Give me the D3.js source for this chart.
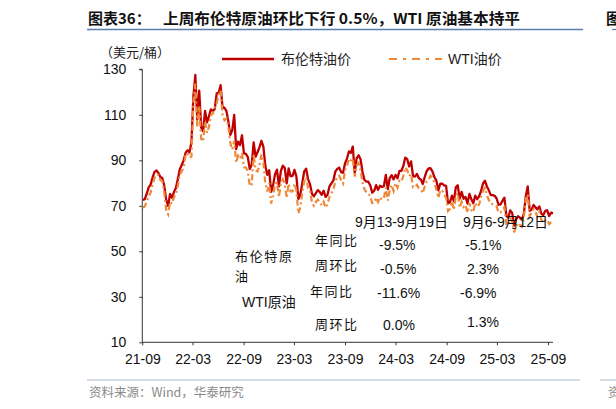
<!DOCTYPE html>
<html><head><meta charset="utf-8">
<script src="https://cdn.jsdelivr.net/npm/d3@7"></script>
<style>
html,body{margin:0;padding:0;background:#fff;}
svg{display:block;}
text{font-family:"Liberation Sans",Arial,"Noto Sans CJK SC",sans-serif;}
.cjk{font-family:"Noto Sans CJK SC","Liberation Sans",sans-serif;}
</style></head>
<body>
<svg id="c" width="616" height="409"></svg>
<script>
// ---- data (weekly Friday closes, USD/bbl) ----
const startDate = "2021-09-03";
const brent2021 = [72.6,72.9,75.3,78.1,79.3,82.4,84.9,85.5,84.4,82.7,82.2,78.9,72.7,69.9,75.2,73.5,76.1,77.8];
const wti2021   = [69.3,69.7,72.0,74.0,75.9,79.4,82.3,83.8,83.6,81.3,80.8,76.1,68.2,66.3,71.7,70.9,73.8,75.2];
const brent2022 = [81.8,86.1,87.9,90.0, 93.3,94.4,93.5,97.9, 118.1,127.5,107.9,120.6, 104.4,102.8,111.7,106.7,109.3, 112.4,111.6,112.6,119.4, 119.7,123.0,113.1,113.1, 111.6,107.0,101.2,103.2,110.0, 94.9,98.2,96.7,101.0, 93.0,92.8,91.4,86.2,88.0, 97.9,91.6,93.5,95.8, 98.6,96.0,87.6,83.6, 85.6,76.1,79.0,83.9,85.9];
const wti2022   = [78.9,83.8,85.1,86.8, 92.3,93.1,91.1,91.6, 115.7,123.7,104.7,113.9, 99.3,98.3,107.0,102.1,104.7, 109.8,110.5,113.2,115.1, 118.9,120.7,109.6,107.6, 108.4,104.8,97.6,94.7,98.6, 89.0,92.1,90.8,93.1, 86.9,86.8,85.1,78.7,79.5, 92.6,85.6,85.1,87.9, 92.6,89.0,80.1,76.3, 80.0,71.0,74.3,79.6,80.3];
const brent2023 = [78.6,85.3,87.6,86.7, 79.9,86.4,83.0,83.2, 85.8,82.8,73.0,75.0,79.8, 85.1,86.3,81.7,79.5, 75.3,74.2,75.6,76.9, 76.1,74.8,76.6,73.9,74.9, 78.5,79.9,81.1,85.0, 86.2,86.8,84.8,84.5, 88.6,90.7,93.9,93.3,96.0, 84.6,90.9,92.2,90.5, 84.9,81.4,80.6,80.6, 78.9,75.8,76.6,79.1,77.0];
const wti2023   = [73.8,79.9,81.6,79.7, 73.4,79.7,76.3,76.3, 79.7,76.7,66.7,69.3,75.7, 80.7,82.5,77.9,76.8, 71.3,70.0,71.7,72.7, 71.7,70.2,71.8,69.2,70.6, 73.9,75.4,77.1,80.6, 82.8,83.2,81.3,79.8, 85.6,87.5,90.8,90.0,90.8, 82.8,87.7,88.8,85.5, 80.5,77.2,75.9,75.5, 74.1,71.2,71.4,73.6,71.7];
const brent2024 = [78.8,78.3,78.6,83.6, 77.3,82.2,83.5,81.6, 83.6,82.1,85.3,85.4,87.5, 91.2,90.5,87.3,89.5, 83.0,82.8,84.0,82.1,81.6, 79.6,82.6,85.2,86.4, 86.5,85.0,82.6,81.1, 76.8,79.7,79.7,79.0,78.8, 71.1,71.6,74.5,72.0, 78.1,79.0,73.1,76.1, 73.1,73.9,71.0,75.2,72.9, 71.1,74.5,72.9,74.2];
const wti2024   = [73.8,72.7,73.4,78.0, 72.3,76.8,79.2,76.5, 80.0,78.0,81.0,80.6,83.2, 86.9,85.7,83.1,83.9, 78.1,78.3,79.2,77.7,77.0, 75.5,78.5,80.7,81.5, 83.2,82.2,80.1,77.2, 73.5,76.8,76.7,74.8,73.6, 67.7,68.7,71.9,68.2, 74.4,75.6,69.2,71.8, 69.5,70.4,67.0,71.2,68.0, 67.2,71.3,69.5,70.6];
const brent2025 = [76.5,79.8,81.0,78.5,76.8, 74.7,74.7,74.4,73.2, 70.4,70.6,72.2,73.6, 65.6,64.8,68.0,66.9, 61.3,63.9,65.4,64.8,63.9, 66.5,74.2,78.5,67.8, 68.3,70.4,69.3,68.4, 69.7,66.6,65.9,67.7,68.1, 65.5,67.0,66.7];
const wti2025   = [74.0,76.6,77.9,74.7,72.5, 71.0,70.7,70.4,69.8, 67.0,67.2,68.3,69.4, 62.0,61.5,64.7,63.0, 58.3,61.0,62.5,61.5,60.8, 64.6,73.0,75.0,65.5, 67.0,68.5,67.3,65.2, 67.3,63.9,62.8,63.7,64.0, 61.9,62.7,62.7];

const yTicks = [10,30,50,70,90,110,130];
const xTickLabels = ["21-09","22-03","22-09","23-03","23-09","24-03","24-09","25-03","25-09"];
const xDomain = ["2021-09-01","2025-09-19"];

const seriesNames = ["布伦特油价","WTI油价"];
const tableCols = ["9月13-9月19日","9月6-9月12日"];
const brentRows = [["年同比","-9.5%","-5.1%"],["周环比","-0.5%","2.3%"]];
const wtiRows = [["年同比","-11.6%","-6.9%"],["周环比","0.0%","1.3%"]];

const title1 = "图表36：";
const title2 = "上周布伦特原油环比下行 0.5%，WTI 原油基本持平";
const unitLabel = "（美元/桶）";
const sourceText = "资料来源：Wind，华泰研究";

// ---- build ----
const brent = [...brent2021,...brent2022,...brent2023,...brent2024,...brent2025];
const wti = [...wti2021,...wti2022,...wti2023,...wti2024,...wti2025];
const parse = d3.timeParse("%Y-%m-%d");
const t0 = parse(startDate);
const dates = brent.map((_,i)=>d3.timeDay.offset(t0, 7*i));

const svg = d3.select("#c");
const RED = "#C00000", ORG = "#F0883A";
const x = d3.scaleTime().domain(xDomain.map(parse)).range([142.3,553]);
const y = d3.scaleLinear().domain([10,130]).range([342.3,69.3]);

// title
svg.append("text").attr("x",88).attr("y",24).attr("class","cjk")
  .attr("font-size",15).attr("font-weight","bold").attr("fill","#111").text(title1);
svg.append("text").attr("x",163).attr("y",24).attr("class","cjk")
  .attr("font-size",15).attr("font-weight","bold").attr("fill","#111")
  .attr("textLength",357).attr("lengthAdjust","spacingAndGlyphs").text(title2);
svg.append("line").attr("x1",87).attr("x2",583).attr("y1",29.5).attr("y2",29.5)
  .attr("stroke","#5a7fae").attr("stroke-width",1.3);
svg.append("line").attr("x1",612).attr("x2",616).attr("y1",29.5).attr("y2",29.5)
  .attr("stroke","#5a7fae").attr("stroke-width",1.3);
svg.append("text").attr("x",606).attr("y",24).attr("class","cjk")
  .attr("font-size",15).attr("font-weight","bold").attr("fill","#111").text("图");

// unit
svg.append("text").attr("x",100).attr("y",57).attr("class","cjk")
  .attr("font-size",13).attr("fill","#222").text(unitLabel);

// legend
svg.append("line").attr("x1",222).attr("x2",274).attr("y1",59).attr("y2",59)
  .attr("stroke",RED).attr("stroke-width",2.5);
svg.append("text").attr("x",281).attr("y",64).attr("class","cjk")
  .attr("font-size",14).attr("fill","#222").text(seriesNames[0]);
svg.append("line").attr("x1",389).attr("x2",442).attr("y1",59).attr("y2",59)
  .attr("stroke",ORG).attr("stroke-width",2.2).attr("stroke-dasharray","8,6,3,6");
svg.append("text").attr("x",448).attr("y",64)
  .attr("font-size",14).attr("fill","#222").text(seriesNames[1]);

// axes
const yAxis = d3.axisLeft(y).tickValues(yTicks).tickSize(3).tickPadding(13);
const gy = svg.append("g").attr("transform","translate(142.3,0)").call(yAxis);
gy.select(".domain").attr("stroke","#333").attr("d","M-3,69.3H0V342.3");
gy.selectAll("line").attr("stroke","#333");
gy.selectAll("text").attr("font-size",14).attr("fill","#111")
  .attr("font-family","Liberation Sans, Arial, sans-serif");

const xTickDates = xTickLabels.map(s=>parse("20"+s+"-01"));
const xAxis = d3.axisBottom(x).tickValues(xTickDates).tickSize(3).tickPadding(9)
  .tickFormat((d,i)=>xTickLabels[i]);
const gx = svg.append("g").attr("transform","translate(0,342.3)").call(xAxis);
gx.select(".domain").attr("stroke","#333").attr("d","M142.3,0H553");
gx.selectAll("line").attr("stroke","#333");
gx.selectAll("text").attr("font-size",14).attr("fill","#111")
  .attr("font-family","Liberation Sans, Arial, sans-serif");

// lines
const line = d3.line().x((d,i)=>x(dates[i])).y(d=>y(d)).curve(d3.curveLinear);
svg.append("path").datum(brent).attr("d",line).attr("fill","none")
  .attr("stroke",RED).attr("stroke-width",2.3).attr("stroke-linejoin","round");
svg.append("path").datum(wti).attr("d",line).attr("fill","none")
  .attr("stroke",ORG).attr("stroke-width",2.2).attr("stroke-dasharray","6,3,2,3");

// annotation table
function t(xp,yp,s,cjk){
  return svg.append("text").attr("x",xp).attr("y",yp).attr("font-size",14)
    .attr("fill","#111").attr("class",cjk?"cjk":null).text(s);
}
t(355,227,tableCols[0]).attr("textLength",93);
t(463,227,tableCols[1]).attr("textLength",85);
t(235,261,"布伦特原",true).attr("textLength",57).attr("font-size",13);
t(235,281,"油",true).attr("font-size",13);
t(242,307,"WTI原油");
const rowY = [[247,272],[298,331]];
const labX = [[315,315],[310,315]];
[brentRows,wtiRows].forEach((rows,gi)=>{
  rows.forEach((r,ri)=>{
    t(labX[gi][ri],rowY[gi][ri]-2,r[0],true).attr("font-size",13).attr("textLength",42);
  });
});
const valY = [[250,274],[298,330]];
const valX0 = [[379,380],[377,383]];
const valX1 = [[465,467],[460,467]];
[brentRows,wtiRows].forEach((rows,gi)=>{
  rows.forEach((r,ri)=>{
    t(valX0[gi][ri],valY[gi][ri],r[1]);
    t(valX1[gi][ri],valY[gi][ri]-(gi===1&&ri===1?3:0),r[2]);
  });
});

// source
svg.append("line").attr("x1",87).attr("x2",580).attr("y1",380).attr("y2",380)
  .attr("stroke","#a8b8cc").attr("stroke-width",1);
svg.append("line").attr("x1",600).attr("x2",616).attr("y1",380).attr("y2",380)
  .attr("stroke","#a8b8cc").attr("stroke-width",1);
svg.append("text").attr("x",89).attr("y",397).attr("class","cjk")
  .attr("font-size",12.5).attr("fill","#8a8a8a").text(sourceText);
svg.append("text").attr("x",608).attr("y",397).attr("class","cjk")
  .attr("font-size",12.5).attr("fill","#8a8a8a").text("资");
</script>
</body></html>
